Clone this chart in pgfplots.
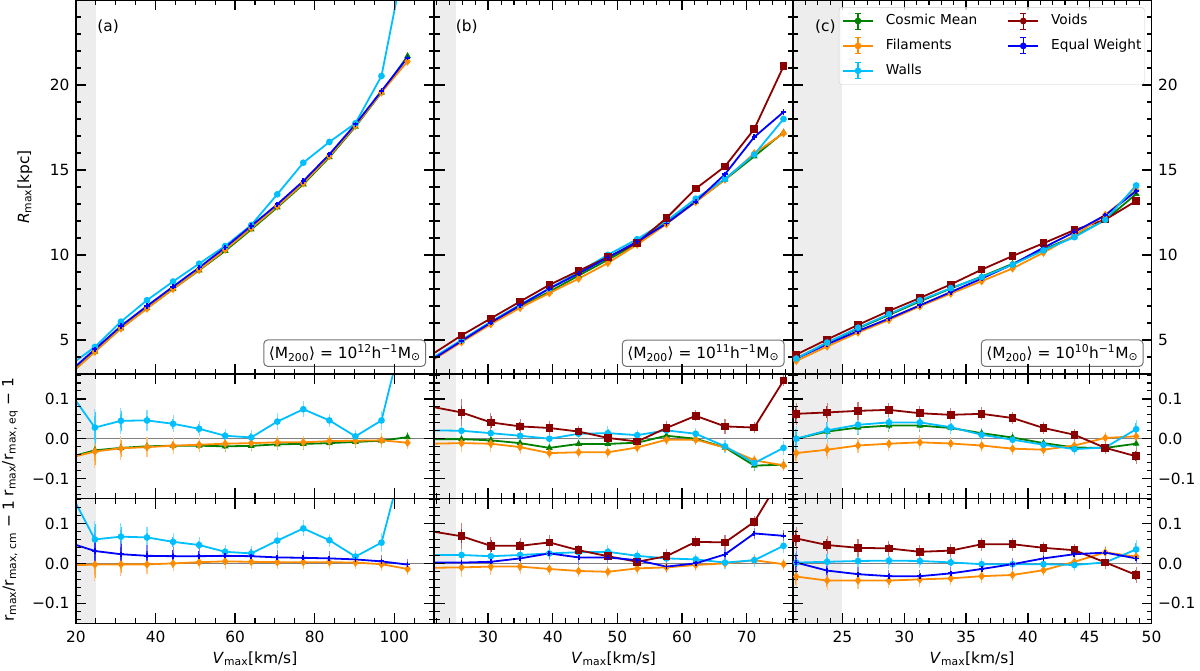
\documentclass[border=0pt]{standalone}
\usepackage{fontspec}
\setmainfont{DejaVu Sans}
\usepackage{pgfplots}
\pgfplotsset{compat=1.18}
\definecolor{cmc}{RGB}{0,128,0}
\definecolor{fic}{RGB}{255,140,0}
\definecolor{wac}{RGB}{0,191,255}
\definecolor{voc}{RGB}{139,0,0}
\definecolor{ewc}{RGB}{0,0,255}
\definecolor{shadec}{RGB}{237,237,237}
\newcommand{\fs}{\fontsize{15.4}{18}\selectfont}
\newcommand{\fl}{\fontsize{13.7}{16}\selectfont}

\pgfplotsset{
 base/.style={scale only axis, axis on top, anchor=south west,
   axis line style={line width=1.4pt}, tick style={line width=1.4pt, black},
   major tick length=10pt, minor tick length=5pt, minor tick style={line width=1.1pt},
   tick align=inside, xtick pos=both, ytick pos=both,
   /pgf/number format/assume math mode=true,
   tick label style={font=\fs},
   xticklabel style={yshift=-4pt}, yticklabel style={xshift=-3pt}},
 toprow/.style={height=374pt, ymin=3, ymax=25, ytick={5,10,15,20}, minor ytick={3,4,...,25}, xticklabels={}},
 ratrow/.style={ymin=-0.15, ymax=0.1625, ytick={-0.1,0,0.1}, yticklabels={−0.1,0.0,0.1},
   minor ytick={-0.14,-0.12,-0.08,-0.06,-0.04,-0.02,0.02,0.04,0.06,0.08,0.12,0.14,0.16}},
 colA/.style={width=358pt, xmin=20, xmax=110, xtick={20,40,60,80,100}, minor xtick={25,30,35,45,50,55,65,70,75,85,90,95,105}},
 colB/.style={width=358pt, xmin=21.7, xmax=77.1, xtick={30,40,50,60,70}, minor xtick={22,24,...,76}},
 colC/.style={width=358.5pt, xmin=21.0, xmax=50, xtick={25,30,35,40,45,50}, minor xtick={21,22,...,50}},
 lim/.style={legend image code/.code={
   \draw[##1, line width=1.8pt] (0pt,0pt) -- (30pt,0pt);
   \draw[##1, line width=1.4pt, mark=none] (15pt,-8pt) -- (15pt,8pt);
   \draw[##1, line width=1pt, mark=none] (12pt,-8pt) -- (18pt,-8pt) (12pt,8pt) -- (18pt,8pt);
   \fill[##1, mark=none] (15pt,0pt) circle (2.4pt);}},
 cmS/.style={lim, color=cmc, line width=1.8pt, mark=triangle*, mark size=2.2pt},
 fiS/.style={lim, color=fic, line width=1.8pt, mark=diamond*, mark size=2.8pt},
 waS/.style={lim, color=wac, line width=1.8pt, mark=*, mark size=2.4pt},
 voS/.style={lim, color=voc, line width=1.8pt, mark=square*, mark size=2.9pt},
 ewS/.style={lim, color=ewc, line width=1.8pt, mark=+, mark size=2.6pt},
 eb/.style={error bars/.cd, y dir=both, y explicit,
   error bar style={line width=1.5pt, color=#1!80}, error mark options={line width=1.1pt, mark size=3.2pt, color=#1!50}},
 shade/.style={draw=none, fill=shadec, forget plot},
 zline/.style={gray, line width=1pt, forget plot},
}

\begin{document}
\begin{tikzpicture}
\useasboundingbox (0pt,0pt) rectangle (1200pt,670pt);

% ================= column a =================
\begin{axis}[base, toprow, colA, at={(76pt,296pt)}]
\addplot[shade] coordinates {(0,0) (25,0) (25,30) (0,30)};
\addplot[cmS] table {
x y
18.2 2.95
24.75 4.32
31.3 5.69
37.85 6.87
44.4 8.0
50.95 9.10
57.5 10.24
64.05 11.5
70.6 12.80
77.15 14.16
83.7 15.75
90.25 17.55
96.8 19.55
103.35 21.70
};
\addplot[fiS] table {
x y
18.2 2.93
24.75 4.31
31.3 5.68
37.85 6.85
44.4 8.0
50.95 9.12
57.5 10.31
64.05 11.58
70.6 12.86
77.15 14.22
83.7 15.82
90.25 17.60
96.8 19.57
103.35 21.39
};
\addplot[waS] table {
x y
18.2 3.47
24.75 4.59
31.3 6.08
37.85 7.34
44.4 8.44
50.95 9.49
57.5 10.53
64.05 11.76
70.6 13.57
77.15 15.43
83.7 16.65
90.25 17.75
96.8 20.53
103.35 28.3
};
\addplot[ewS] table {
x y
18.2 3.1
24.75 4.45
31.3 5.82
37.85 7.0
44.4 8.14
50.95 9.26
57.5 10.44
64.05 11.71
70.6 12.98
77.15 14.35
83.7 15.92
90.25 17.69
96.8 19.65
103.35 21.61
};
\node[anchor=west, font=\fs] at (rel axis cs:0.05,0.928) {(a)};
\node[anchor=south east, draw=black!55, rounded corners=4pt, line width=1pt, fill=white, inner sep=5pt, font=\fs] at (rel axis cs:0.978,0.019) {⟨M\textsubscript{200}⟩ = 10\textsuperscript{12}h\textsuperscript{−1}M\textsubscript{⊙}};
\end{axis}

\begin{axis}[base, ratrow, colA, height=124.5pt, xticklabels={}, at={(76pt,171.5pt)}]
\addplot[shade] coordinates {(0,-1) (25,-1) (25,1) (0,1)};
\addplot[zline] coordinates {(0,0) (200,0)};
\addplot[cmS, eb=cmc] table[y error index=2] {
x y e
18.2 -0.047 0.01
24.75 -0.029 0.008
31.3 -0.023 0.008
37.85 -0.019 0.007
44.4 -0.0175 0.006
50.95 -0.0175 0.006
57.5 -0.019 0.006
64.05 -0.018 0.006
70.6 -0.014 0.006
77.15 -0.013 0.006
83.7 -0.011 0.006
90.25 -0.008 0.006
96.8 -0.005 0.006
103.35 0.004 0.006
};
\addplot[fiS, eb=fic] table[y error index=2] {
x y e
18.2 -0.0485 0.035
24.75 -0.032 0.033
31.3 -0.024 0.022
37.85 -0.021 0.017
44.4 -0.0175 0.012
50.95 -0.015 0.01
57.5 -0.0125 0.01
64.05 -0.011 0.009
70.6 -0.009 0.008
77.15 -0.009 0.008
83.7 -0.006 0.008
90.25 -0.005 0.007
96.8 -0.004 0.01
103.35 -0.01 0.008
};
\addplot[waS, eb=wac] table[y error index=2] {
x y e
18.2 0.12 0.04
24.75 0.028 0.038
31.3 0.045 0.025
37.85 0.046 0.018
44.4 0.0375 0.013
50.95 0.025 0.011
57.5 0.0075 0.01
64.05 0.0033 0.011
70.6 0.043 0.014
77.15 0.074 0.012
83.7 0.046 0.008
90.25 0.006 0.009
96.8 0.046 0.015
103.35 0.31 0.02
};
\end{axis}

\begin{axis}[base, ratrow, colA, height=124.8pt, at={(76pt,46.7pt)}]
\addplot[shade] coordinates {(0,-1) (25,-1) (25,1) (0,1)};
\addplot[zline] coordinates {(0,0) (200,0)};
\addplot[fiS, eb=fic] table[y error index=2] {
x y e
18.2 -0.005 0.035
24.75 -0.003 0.033
31.3 -0.0025 0.022
37.85 -0.0025 0.017
44.4 0.0 0.012
50.95 0.003 0.01
57.5 0.005 0.01
64.05 0.004 0.009
70.6 0.003 0.008
77.15 0.003 0.008
83.7 0.003 0.008
90.25 0.002 0.007
96.8 -0.002 0.01
103.35 -0.014 0.008
};
\addplot[waS, eb=wac] table[y error index=2] {
x y e
18.2 0.184 0.04
24.75 0.06 0.038
31.3 0.067 0.025
37.85 0.065 0.018
44.4 0.054 0.013
50.95 0.046 0.011
57.5 0.029 0.01
64.05 0.025 0.011
70.6 0.057 0.014
77.15 0.0875 0.012
83.7 0.058 0.008
90.25 0.017 0.009
96.8 0.052 0.015
103.35 0.30 0.02
};
\addplot[ewS, eb=ewc] table[y error index=2] {
x y e
18.2 0.052 0.04
24.75 0.031 0.035
31.3 0.023 0.025
37.85 0.019 0.02
44.4 0.018 0.015
50.95 0.018 0.012
57.5 0.019 0.01
64.05 0.018 0.01
70.6 0.015 0.01
77.15 0.014 0.01
83.7 0.0125 0.01
90.25 0.01 0.008
96.8 0.005 0.008
103.35 -0.003 0.006
};
\end{axis}

% ================= column b =================
\begin{axis}[base, toprow, colB, yticklabels={}, at={(434.5pt,296pt)}]
\addplot[shade] coordinates {(0,0) (25,0) (25,30) (0,30)};
\addplot[cmS] table {
x y
21.35 3.85
25.88 4.93
30.41 6.0
34.94 6.96
39.47 7.84
44.0 8.79
48.53 9.72
53.06 10.68
57.59 11.94
62.12 13.14
66.65 14.43
71.18 15.80
75.71 17.21
};
\addplot[fiS] table {
x y
21.35 3.80
25.88 4.87
30.41 5.93
34.94 6.89
39.47 7.76
44.0 8.61
48.53 9.53
53.06 10.61
57.59 11.82
62.12 13.12
66.65 14.44
71.18 15.98
75.71 17.16
};
\addplot[waS] table {
x y
21.35 3.93
25.88 5.0
30.41 6.08
34.94 7.08
39.47 8.04
44.0 8.99
48.53 10.01
53.06 10.93
57.59 12.0
62.12 13.31
66.65 14.48
71.18 15.91
75.71 18.0
};
\addplot[voS] table {
x y
21.35 4.16
25.88 5.27
30.41 6.27
34.94 7.26
39.47 8.24
44.0 9.07
48.53 9.87
53.06 10.71
57.59 12.17
62.12 13.90
66.65 15.21
71.18 17.41
75.71 21.10
};
\addplot[ewS] table {
x y
21.35 3.85
25.88 4.94
30.41 6.02
34.94 7.04
39.47 8.02
44.0 8.91
48.53 9.85
53.06 10.79
57.59 11.85
62.12 13.14
66.65 14.75
71.18 16.94
75.71 18.41
};
\node[anchor=west, font=\fs] at (rel axis cs:0.05,0.928) {(b)};
\node[anchor=south east, draw=black!55, rounded corners=4pt, line width=1pt, fill=white, inner sep=5pt, font=\fs] at (rel axis cs:0.978,0.019) {⟨M\textsubscript{200}⟩ = 10\textsuperscript{11}h\textsuperscript{−1}M\textsubscript{⊙}};
\end{axis}

\begin{axis}[base, ratrow, colB, height=124.5pt, xticklabels={}, yticklabels={}, at={(434.5pt,171.5pt)}]
\addplot[shade] coordinates {(0,-1) (25,-1) (25,1) (0,1)};
\addplot[zline] coordinates {(0,0) (200,0)};
\addplot[cmS, eb=cmc] table[y error index=2] {
x y e
21.35 -0.001 0.008
25.88 -0.001 0.008
30.41 -0.004 0.008
34.94 -0.011 0.007
39.47 -0.023 0.006
44.0 -0.013 0.006
48.53 -0.013 0.005
53.06 -0.01 0.005
57.59 0.0075 0.005
62.12 0.0 0.005
66.65 -0.022 0.005
71.18 -0.0675 0.005
75.71 -0.065 0.005
};
\addplot[fiS, eb=fic] table[y error index=2] {
x y e
21.35 -0.0125 0.015
25.88 -0.011 0.015
30.41 -0.0125 0.012
34.94 -0.021 0.01
39.47 -0.036 0.008
44.0 -0.034 0.007
48.53 -0.034 0.007
53.06 -0.022 0.006
57.59 -0.0025 0.006
62.12 -0.0025 0.006
66.65 -0.022 0.006
71.18 -0.054 0.006
75.71 -0.067 0.006
};
\addplot[waS, eb=wac] table[y error index=2] {
x y e
21.35 0.021 0.012
25.88 0.02 0.012
30.41 0.014 0.008
34.94 0.0075 0.007
39.47 0.0 0.008
44.0 0.0125 0.008
48.53 0.014 0.01
53.06 0.009 0.006
57.59 0.021 0.006
62.12 0.0125 0.006
66.65 -0.019 0.008
71.18 -0.061 0.008
75.71 -0.023 0.01
};
\addplot[voS, eb=voc] table[y error index=2] {
x y e
21.35 0.08 0.025
25.88 0.066 0.025
30.41 0.041 0.015
34.94 0.031 0.011
39.47 0.027 0.01
44.0 0.018 0.006
48.53 0.002 0.006
53.06 -0.007 0.006
57.59 0.027 0.01
62.12 0.0575 0.006
66.65 0.031 0.01
71.18 0.028 0.006
75.71 0.146 0.006
};
\end{axis}

\begin{axis}[base, ratrow, colB, height=124.8pt, yticklabels={}, at={(434.5pt,46.7pt)}]
\addplot[shade] coordinates {(0,-1) (25,-1) (25,1) (0,1)};
\addplot[zline] coordinates {(0,0) (200,0)};
\addplot[fiS, eb=fic] table[y error index=2] {
x y e
21.35 -0.011 0.015
25.88 -0.01 0.015
30.41 -0.008 0.012
34.94 -0.008 0.01
39.47 -0.014 0.008
44.0 -0.019 0.007
48.53 -0.021 0.007
53.06 -0.0125 0.006
57.59 -0.01 0.006
62.12 -0.004 0.006
66.65 0.0 0.006
71.18 0.008 0.006
75.71 -0.002 0.006
};
\addplot[waS, eb=wac] table[y error index=2] {
x y e
21.35 0.021 0.012
25.88 0.021 0.012
30.41 0.018 0.008
34.94 0.021 0.007
39.47 0.025 0.008
44.0 0.028 0.008
48.53 0.029 0.01
53.06 0.019 0.006
57.59 0.0125 0.006
62.12 0.01 0.006
66.65 0.002 0.008
71.18 0.008 0.008
75.71 0.044 0.01
};
\addplot[voS, eb=voc] table[y error index=2] {
x y e
21.35 0.08 0.025
25.88 0.068 0.025
30.41 0.044 0.015
34.94 0.044 0.011
39.47 0.0525 0.01
44.0 0.033 0.006
48.53 0.018 0.006
53.06 0.004 0.006
57.59 0.018 0.01
62.12 0.054 0.006
66.65 0.0525 0.01
71.18 0.104 0.006
75.71 0.225 0.006
};
\addplot[ewS, eb=ewc] table[y error index=2] {
x y e
21.35 0.002 0.008
25.88 0.002 0.008
30.41 0.004 0.006
34.94 0.0125 0.006
39.47 0.025 0.006
44.0 0.015 0.012
48.53 0.015 0.006
53.06 0.008 0.006
57.59 -0.008 0.006
62.12 0.0 0.006
66.65 0.0225 0.006
71.18 0.075 0.006
75.71 0.069 0.006
};
\end{axis}

% ================= column c =================
\begin{axis}[base, toprow, colC, yticklabel pos=right, ytick pos=both, yticklabel style={xshift=6pt}, at={(793pt,296pt)},
  legend columns=2, legend cell align=left,
  legend style={at={(0.128,0.981)}, anchor=north west, draw=black!20, rounded corners=3pt, fill=white, fill opacity=0.8, text opacity=1, draw opacity=1, font=\fl, inner xsep=3pt, inner ysep=5pt, row sep=7.5pt,
   nodes={inner sep=0pt, text height=10pt, text depth=3pt},
   /tikz/every odd column/.append style={column sep=12pt},
   /tikz/every even column/.append style={column sep=30pt}}]
\addplot[shade] coordinates {(0,0) (25,0) (25,30) (0,30)};
\addplot[cmS] table {
x y
21.26 3.91
23.76 4.84
26.26 5.68
28.76 6.47
31.26 7.27
33.76 8.03
36.26 8.73
38.76 9.48
41.26 10.32
43.76 11.10
46.26 12.06
48.76 13.59
};
\addlegendentry{Cosmic Mean}
\addplot[voS] table {
x y
21.26 4.14
23.76 5.03
26.26 5.89
28.76 6.71
31.26 7.47
33.76 8.27
36.26 9.14
38.76 9.94
41.26 10.69
43.76 11.47
46.26 12.08
48.76 13.18
};
\addlegendentry{Voids}
\addplot[fiS] table {
x y
21.26 3.77
23.76 4.62
26.26 5.44
28.76 6.18
31.26 6.98
33.76 7.73
36.26 8.46
38.76 9.21
41.26 10.14
43.76 11.16
46.26 12.36
48.76 13.84
};
\addlegendentry{Filaments}
\addplot[ewS] table {
x y
21.26 3.91
23.76 4.75
26.26 5.53
28.76 6.26
31.26 7.04
33.76 7.82
36.26 8.61
38.76 9.45
41.26 10.43
43.76 11.35
46.26 12.34
48.76 13.76
};
\addlegendentry{Equal Weight}
\addplot[waS] table {
x y
21.26 3.91
23.76 4.85
26.26 5.72
28.76 6.52
31.26 7.33
33.76 8.05
36.26 8.70
38.76 9.43
41.26 10.27
43.76 11.05
46.26 12.07
48.76 14.09
};
\addlegendentry{Walls}
\node[anchor=west, font=\fs] at (rel axis cs:0.052,0.928) {(c)};
\node[anchor=south east, draw=black!55, rounded corners=4pt, line width=1pt, fill=white, inner sep=5pt, font=\fs] at (rel axis cs:0.978,0.019) {⟨M\textsubscript{200}⟩ = 10\textsuperscript{10}h\textsuperscript{−1}M\textsubscript{⊙}};
\end{axis}

\begin{axis}[base, ratrow, colC, height=124.5pt, xticklabels={}, yticklabel pos=right, ytick pos=both, yticklabel style={xshift=6pt}, at={(793pt,171.5pt)}]
\addplot[shade] coordinates {(0,-1) (25,-1) (25,1) (0,1)};
\addplot[zline] coordinates {(0,0) (200,0)};
\addplot[cmS, eb=cmc] table[y error index=2] {
x y e
21.26 0.0 0.01
23.76 0.018 0.01
26.26 0.028 0.01
28.76 0.033 0.008
31.26 0.033 0.007
33.76 0.027 0.006
36.26 0.014 0.006
38.76 0.003 0.005
41.26 -0.011 0.005
43.76 -0.022 0.005
46.26 -0.023 0.005
48.76 -0.0125 0.005
};
\addplot[fiS, eb=fic] table[y error index=2] {
x y e
21.26 -0.036 0.02
23.76 -0.0275 0.015
26.26 -0.017 0.012
28.76 -0.0125 0.01
31.26 -0.009 0.01
33.76 -0.012 0.008
36.26 -0.017 0.008
38.76 -0.025 0.007
41.26 -0.0275 0.007
43.76 -0.017 0.007
46.26 0.002 0.007
48.76 0.006 0.008
};
\addplot[waS, eb=wac] table[y error index=2] {
x y e
21.26 0.0 0.025
23.76 0.021 0.02
26.26 0.035 0.015
28.76 0.041 0.012
31.26 0.041 0.01
33.76 0.029 0.01
36.26 0.01 0.008
38.76 -0.0025 0.008
41.26 -0.015 0.007
43.76 -0.026 0.007
46.26 -0.022 0.008
48.76 0.024 0.015
};
\addplot[voS, eb=voc] table[y error index=2] {
x y e
21.26 0.0625 0.02
23.76 0.066 0.015
26.26 0.07 0.015
28.76 0.0725 0.01
31.26 0.064 0.01
33.76 0.06 0.008
36.26 0.0625 0.008
38.76 0.052 0.008
41.26 0.027 0.007
43.76 0.01 0.007
46.26 -0.023 0.008
48.76 -0.044 0.012
};
\end{axis}

\begin{axis}[base, ratrow, colC, height=124.8pt, yticklabel pos=right, ytick pos=both, yticklabel style={xshift=6pt}, at={(793pt,46.7pt)}]
\addplot[shade] coordinates {(0,-1) (25,-1) (25,1) (0,1)};
\addplot[zline] coordinates {(0,0) (200,0)};
\addplot[fiS, eb=fic] table[y error index=2] {
x y e
21.26 -0.033 0.02
23.76 -0.043 0.015
26.26 -0.043 0.012
28.76 -0.043 0.01
31.26 -0.04 0.01
33.76 -0.0375 0.008
36.26 -0.032 0.008
38.76 -0.029 0.007
41.26 -0.017 0.007
43.76 0.004 0.007
46.26 0.0275 0.007
48.76 0.017 0.008
};
\addplot[waS, eb=wac] table[y error index=2] {
x y e
21.26 0.002 0.025
23.76 0.004 0.02
26.26 0.006 0.015
28.76 0.007 0.012
31.26 0.006 0.01
33.76 0.0025 0.01
36.26 -0.002 0.008
38.76 -0.002 0.008
41.26 -0.002 0.007
43.76 -0.004 0.007
46.26 0.0025 0.008
48.76 0.035 0.015
};
\addplot[voS, eb=voc] table[y error index=2] {
x y e
21.26 0.0625 0.02
23.76 0.046 0.015
26.26 0.039 0.015
28.76 0.0375 0.01
31.26 0.029 0.01
33.76 0.032 0.008
36.26 0.048 0.008
38.76 0.048 0.008
41.26 0.039 0.007
43.76 0.033 0.007
46.26 0.0025 0.008
48.76 -0.029 0.012
};
\addplot[ewS, eb=ewc] table[y error index=2] {
x y e
21.26 0.002 0.02
23.76 -0.018 0.012
26.26 -0.027 0.01
28.76 -0.032 0.008
31.26 -0.032 0.008
33.76 -0.025 0.007
36.26 -0.014 0.007
38.76 -0.002 0.007
41.26 0.0125 0.007
43.76 0.023 0.007
46.26 0.027 0.007
48.76 0.0125 0.007
};
\end{axis}

% ================= labels =================
\node[rotate=90, font=\fs] at (25pt,483pt) {\textit{R}\textsubscript{max}[kpc]};
\node[rotate=90, font=\fs] at (10pt,233pt) {r\textsubscript{max}/r\textsubscript{max, eq} − 1};
\node[rotate=90, font=\fs] at (10pt,109pt) {r\textsubscript{max}/r\textsubscript{max, cm} − 1};
\node[font=\fs] at (255pt,11pt) {\textit{V}\textsubscript{max}[km/s]};
\node[font=\fs] at (613.5pt,11pt) {\textit{V}\textsubscript{max}[km/s]};
\node[font=\fs] at (972pt,11pt) {\textit{V}\textsubscript{max}[km/s]};
\end{tikzpicture}
\end{document}
